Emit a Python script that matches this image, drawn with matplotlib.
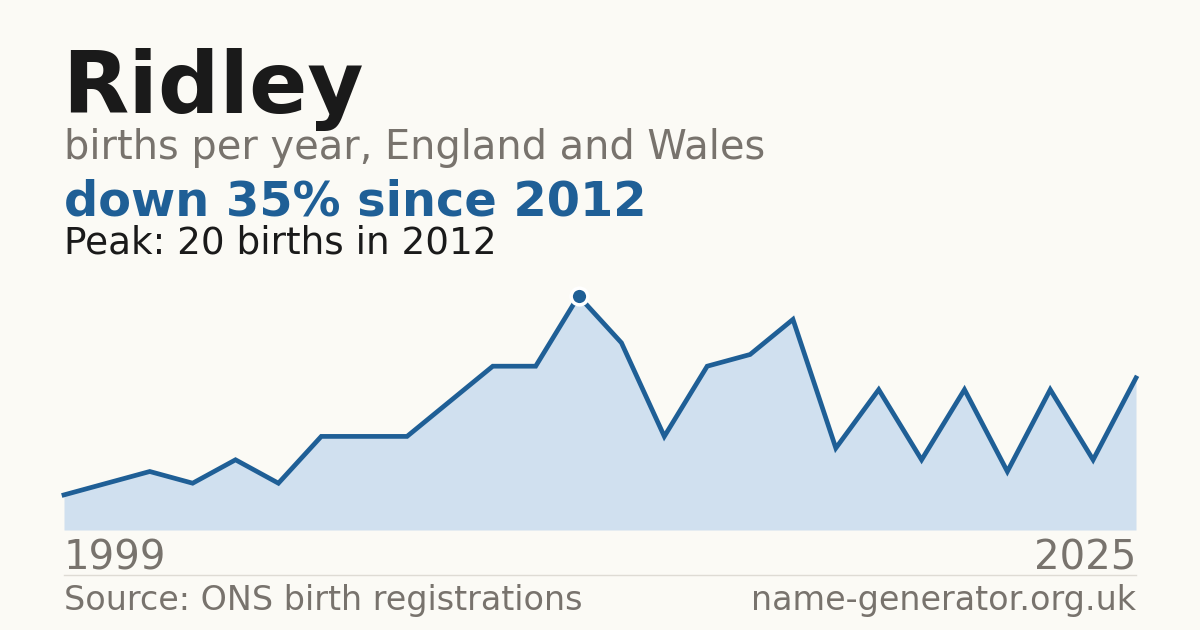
import numpy as np
import matplotlib.pyplot as plt

plt.rcParams['font.family'] = ['DejaVu Sans']

# Births per year (26 registrations plotted, left to right)
births = [3, 4, 5, 4, 6, 4, 8, 8, 8, 11, 14, 14, 20, 16, 8, 14, 15, 18, 7, 12, 6, 12, 5, 12, 6, 13]
peak_index = 12
first_label = '1999'
last_label = '2025'

name = 'Ridley'
subtitle = 'births per year, England and Wales'
trend = 'down 35% since 2012'
peak_text = 'Peak: 20 births in 2012'
source = 'Source: ONS birth registrations'
site = 'name-generator.org.uk'

BG = '#fbfaf5'
BLUE = '#1f5f96'
FILL = '#d0e0ef'
GREY = '#78736d'
INK = '#1a1a1a'

W, H = 1200, 630


def fx(px):
    return px / W


def fy(py):
    return 1 - py / H


def main():
    fig = plt.figure(figsize=(12, 6.3), dpi=100, facecolor=BG)

    # plot area: x 64..1136 px, y 530 (zero) .. 296 (peak)
    ax = fig.add_axes([fx(64), fy(530), fx(1136) - fx(64), fy(296) - fy(530)])
    ax.set_facecolor('none')
    x = np.arange(len(births))
    ax.fill_between(x, births, 0, color=FILL, lw=0, clip_on=False)
    ax.plot(x, births, color=BLUE, lw=3.4, solid_joinstyle='miter', clip_on=False)
    ax.plot(x[peak_index], births[peak_index], 'o', ms=12, mfc=BLUE, mec='white',
            mew=2.5, clip_on=False, zorder=5)
    ax.set_xlim(0, len(births) - 1)
    ax.set_ylim(0, max(births))
    ax.axis('off')

    # headings
    fig.text(fx(62), fy(113), name, fontsize=62, fontweight='bold', color=INK, va='baseline')
    fig.text(fx(64), fy(159), subtitle, fontsize=28.7, color=GREY, va='baseline')
    fig.text(fx(64), fy(215), trend, fontsize=34.5, fontweight='bold', color=BLUE, va='baseline')
    fig.text(fx(64), fy(254), peak_text, fontsize=26.9, color=INK, va='baseline')

    # axis end labels
    fig.text(fx(64), fy(569), first_label, fontsize=29, color=GREY, va='baseline')
    fig.text(fx(1136), fy(569), last_label, fontsize=29, color=GREY, va='baseline', ha='right')

    # separator and footer
    fig.add_artist(plt.Line2D([fx(64), fx(1136)], [fy(574.5), fy(574.5)], color='#dedbd4', lw=1))
    fig.text(fx(64), fy(610), source, fontsize=24, color=GREY, va='baseline')
    fig.text(fx(1136), fy(610), site, fontsize=24, color=GREY, va='baseline', ha='right')

    fig.savefig('out.png', dpi=100, facecolor=BG)


if __name__ == '__main__':
    main()
